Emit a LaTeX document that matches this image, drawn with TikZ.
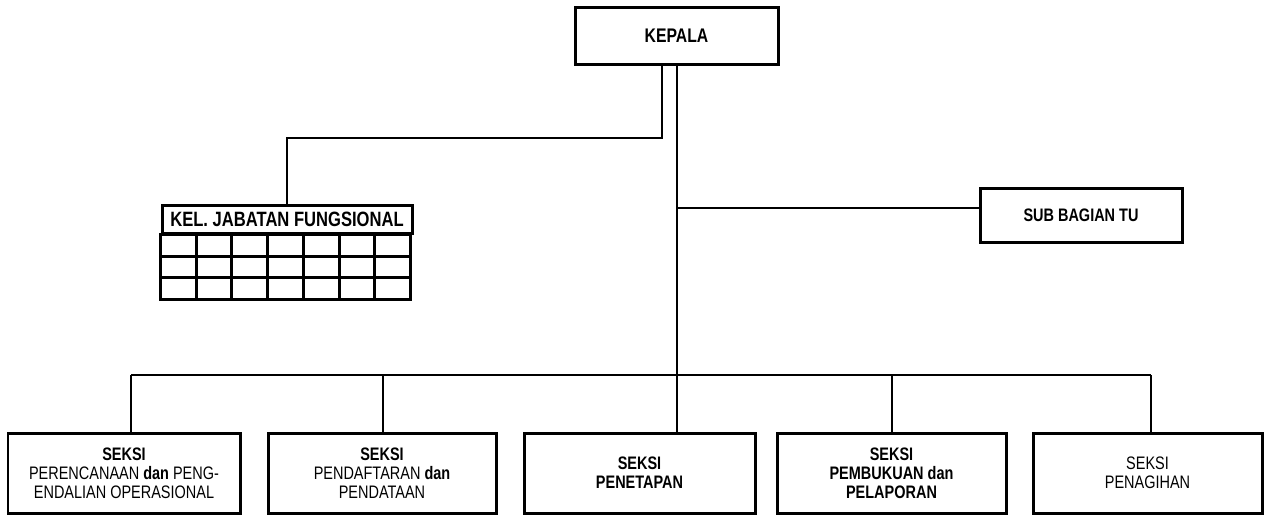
\documentclass[tikz,border=0pt]{standalone}
\usepackage{fontspec}
\setmainfont{Liberation Sans}[FakeStretch=0.8]
\begin{document}
\begin{tikzpicture}[x=0.02cm,y=-0.02cm,font=\bfseries,
        box/.style={draw,line width=0.6mm,align=center,inner sep=0pt},
        seksi/.style={box,minimum width=229*0.02cm,minimum height=80*0.02cm,
            font=\fontsize{10.3}{10.8}\selectfont\bfseries},
        link/.style={line width=0.4mm}]
    \useasboundingbox (0,0) rectangle (1270,515);
    % top
    \node[box,minimum width=203*0.02cm,minimum height=57*0.02cm,font=\fontsize{11.2}{12}\selectfont\bfseries]
        (kepala) at (676.5,35.5) {KEPALA};
    \node[box,minimum width=202*0.02cm,minimum height=54*0.02cm,font=\fontsize{10.3}{12}\selectfont\bfseries]
        (sub) at (1081,215) {SUB BAGIAN TU};
    % kelompok jabatan fungsional
    \node[box,minimum width=250*0.02cm,minimum height=28*0.02cm,font=\fontsize{11.8}{13}\selectfont\bfseries]
        (kel) at (287,219) {KEL. JABATAN FUNGSIONAL};
    \begin{scope}[line width=0.6mm]
        \draw (kel.south west) rectangle ++(250,65);
        \foreach \r in {1,2} {
            \draw (kel.south west) ++(0,21.67*\r) -- ++(250,0);
        }
        \foreach \c in {1,...,6} {
            \draw (kel.south west) ++(35.71*\c,0) -- ++(0,65);
        }
    \end{scope}
    % seksi
    \node[seksi,minimum width=232*0.02cm] (s1) at (124,473)
        {SEKSI\\{\mdseries PERENCANAAN} dan {\mdseries PENG-}\\{\mdseries ENDALIAN OPERASIONAL}};
    \node[seksi,minimum width=228*0.02cm] (s2) at (382,473)
        {SEKSI\\{\mdseries PENDAFTARAN} dan\\{\mdseries PENDATAAN}};
    \node[seksi,minimum width=231*0.02cm] (s3) at (639.5,473) {SEKSI\\PENETAPAN};
    \node[seksi] (s4) at (891.5,473) {SEKSI\\PEMBUKUAN dan\\PELAPORAN};
    \node[seksi,font=\fontsize{10.3}{10.8}\selectfont] (s5) at (1147.5,473) {SEKSI\\PENAGIHAN};
    % connectors
    \coordinate (k1) at (662,138);
    \coordinate (k2) at (677,208);
    \coordinate (bus) at (677,375);
    \begin{scope}[link]
        \draw (kepala.south -| k1) -- (k1) -| (kel.north);
        \draw (kepala.south -| bus) -- (s3.north -| bus);
        \draw (k2) -- (k2 -| sub.west);
        \draw (bus -| 131,0) -- (bus -| 1151,0);
        \foreach \x/\s in {131/s1,383/s2,892/s4,1151/s5} {
            \draw (bus -| \x,0) -- (\s.north -| \x,0);
        }
    \end{scope}
\end{tikzpicture}
\end{document}
